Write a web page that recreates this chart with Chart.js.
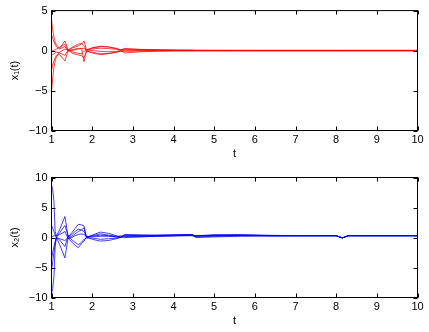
<!DOCTYPE html>
<html><head><meta charset="utf-8">
<script src="https://cdn.jsdelivr.net/npm/chart.js@4/dist/chart.umd.min.js"></script>
<style>
html,body{margin:0;padding:0;background:#fff;}
#wrap{position:relative;width:429px;height:332px;}
.c{position:absolute;left:0;width:429px;height:166px;}
</style></head>
<body><div id="wrap">
<div class="c" style="top:0"><canvas id="c1" width="429" height="166"></canvas></div>
<div class="c" style="top:166px"><canvas id="c2" width="429" height="166"></canvas></div>
</div>
<script>
// time samples
const T = [1.00,1.03,1.06,1.09,1.12,1.20,1.33,1.41,1.50,1.58,1.66,1.74,1.80,1.86,2.00,2.20,2.40,2.60,2.70,2.80,3.20,3.60,4.00,4.45,4.55,5.00,5.60,6.50,8.00,8.15,8.30,10.00];
const xTicks = [1,2,3,4,5,6,7,8,9,10];
const yTicks1 = [-10,-5,0,5];
const yTicks2 = [-10,-5,0,5,10];
// x1(t) trajectories
const x1_a = [3.9,2.6,1.7,1.1,0.7,0.3,1.2,0.1,0.3,0.45,0.6,0.8,1.2,0.1,0.35,0.55,0.45,0.25,0.05,0.2,0.12,0.08,0.05,0.05,0.04,0.04,0.04,0.04,0.04,0.04,0.04,0.04];
const x1_b = [2.0,1.5,1.1,0.8,0.5,0.2,0.5,-0.1,0.4,0.6,0.8,0.9,0.6,0.0,0.3,0.5,0.45,0.25,0.1,0.25,0.15,0.1,0.06,0.04,0.03,0.02,0.01,0,0,0,0,0];
const x1_c = [0.0,0.0,0.05,0.1,0.2,0.4,0.8,0.0,-0.15,-0.25,-0.35,-0.4,-0.1,0.1,0.0,-0.1,-0.15,-0.1,0.0,-0.3,-0.15,-0.08,-0.05,-0.05,-0.04,-0.04,-0.04,-0.04,-0.04,-0.04,-0.04,-0.04];
const x1_d = [-0.6,-0.5,-0.4,-0.3,-0.2,-0.3,-0.6,0.1,-0.3,-0.45,-0.55,-0.65,-0.9,-0.1,-0.2,-0.4,-0.35,-0.2,-0.05,0.05,0.03,0.02,0.01,0,0,0,0,0,0,0,0,0];
const x1_e = [-2.5,-1.8,-1.3,-0.9,-0.6,-0.5,-1.3,0.0,0.1,0.2,0.25,0.3,-1.4,0.0,-0.3,-0.5,-0.4,-0.2,-0.1,-0.1,-0.07,-0.04,-0.02,-0.01,0,0,0,0,0,0,0,0];
const x1_f = [-5.2,-3.4,-2.1,-1.3,-0.8,-0.2,0.2,0.05,0.0,0.1,0.2,0.25,0.3,0.05,0.2,0.3,0.25,0.15,0.05,0.1,0.08,0.05,0.03,0.02,0.01,0,0,0,0,0,0,0];
// x2(t) trajectories
const x2_a = [8.8,8.0,6.0,1.0,0.2,1.3,3.5,0.1,0.8,1.5,2.2,2.1,1.9,0.0,0.4,0.9,0.7,0.3,0.05,0.5,0.45,0.4,0.45,0.5,0.2,0.4,0.5,0.35,0.3,-0.07,0.3,0.3];
const x2_b = [-9.3,-8.5,-6.5,-1.5,0.0,-1.2,-3.4,0.0,-0.8,-1.3,-1.7,-1.0,-0.6,0.1,-0.3,-0.6,-0.5,-0.2,0.0,0.1,0.15,0.2,0.25,0.3,0.1,0.2,0.3,0.3,0.3,-0.07,0.3,0.3];
const x2_c = [-5.6,-4.0,-2.5,-1.0,0.0,0.8,2.0,0.2,0.5,1.0,1.4,1.2,1.0,0.05,0.3,0.6,0.4,0.2,0.1,0.4,0.3,0.35,0.4,0.45,0.3,0.45,0.4,0.3,0.3,-0.07,0.3,0.3];
const x2_d = [0.0,0.2,0.3,0.3,0.3,0.5,1.0,-0.2,0.0,0.3,0.5,0.6,0.5,0.2,0.1,0.2,0.2,0.1,0.3,0.0,0.1,0.2,0.3,0.45,0.0,0.1,0.2,0.25,0.3,-0.07,0.3,0.3];
const x2_e = [-3.5,-2.5,-1.5,-0.6,0.0,-0.4,-1.5,0.3,-0.4,-0.8,-1.2,-0.8,-0.3,-0.1,-0.1,-0.3,-0.2,-0.1,0.1,0.2,0.25,0.3,0.3,0.35,0.3,0.35,0.35,0.3,0.3,-0.07,0.3,0.3];
const x2_f = [2.0,1.5,1.0,0.4,0.0,-0.2,-0.5,0.0,0.2,0.6,1.0,1.3,1.6,0.0,0.2,0.4,0.3,0.1,0.0,0.3,0.3,0.35,0.4,0.4,0.3,0.3,0.35,0.3,0.3,-0.07,0.3,0.3];

const FONT = '"Liberation Sans", Arial, Helvetica, sans-serif';
const fmt = v => v < 0 ? '\u2212' + Math.abs(v) : String(v);

const boxPlugin = {
  id: 'mbox',
  afterDraw(chart) {
    const {ctx, chartArea: a, scales: {x, y}} = chart;
    ctx.save();
    ctx.strokeStyle = '#000';
    ctx.lineWidth = 1;
    ctx.strokeRect(a.left, a.top, a.right - a.left, a.bottom - a.top);
    const L = 4;
    ctx.beginPath();
    x.ticks.forEach(t => {
      const p = Math.round(x.getPixelForValue(t.value)) + 0.5;
      ctx.moveTo(p, a.bottom); ctx.lineTo(p, a.bottom - L);
      ctx.moveTo(p, a.top); ctx.lineTo(p, a.top + L);
    });
    y.ticks.forEach(t => {
      const p = Math.round(y.getPixelForValue(t.value)) + 0.5;
      ctx.moveTo(a.left, p); ctx.lineTo(a.left + L, p);
      ctx.moveTo(a.right, p); ctx.lineTo(a.right - L, p);
    });
    ctx.stroke();
    ctx.restore();
  }
};

function makeChart(id, series, color, yMin, yMax, yTicks, yTitle, padTop, padBottom) {
  return new Chart(document.getElementById(id), {
    type: 'line',
    data: {
      datasets: series.map(s => ({
        data: T.map((t, i) => ({x: t, y: s[i]})),
        borderColor: color, borderWidth: 0.75, pointRadius: 0, tension: 0, fill: false
      }))
    },
    options: {
      responsive: false, animation: false, events: [],
      layout: {padding: {left: 0, right: 11.5, top: padTop, bottom: padBottom}},
      plugins: {legend: {display: false}, tooltip: {enabled: false}},
      scales: {
        x: {
          type: 'linear', min: 1, max: 10,
          afterBuildTicks: s => { s.ticks = xTicks.map(v => ({value: v})); },
          afterFit: s => { s.height = 30; },
          grid: {display: false, drawTicks: false}, border: {display: false},
          ticks: {color: '#000', font: {family: FONT, size: 11}, padding: 3, maxRotation: 0, autoSkip: false, callback: fmt},
          title: {display: true, text: 't', color: '#000', font: {family: FONT, size: 11}, padding: {top: 0, bottom: 0}}
        },
        y: {
          type: 'linear', min: yMin, max: yMax,
          afterBuildTicks: s => { s.ticks = yTicks.map(v => ({value: v})); },
          afterFit: s => { s.width = 51.5; },
          grid: {display: false, drawTicks: false}, border: {display: false},
          ticks: {color: '#000', font: {family: FONT, size: 11}, padding: 4, autoSkip: false, callback: fmt},
          title: {display: true, text: yTitle, color: '#000', font: {family: FONT, size: 11}, padding: {top: 8.5, bottom: 0}}
        }
      }
    },
    plugins: [boxPlugin]
  });
}

makeChart('c1', [x1_a, x1_b, x1_c, x1_d, x1_e, x1_f], '#ff0000', -10, 5, yTicks1, 'x\u2081(t)', 9.5, 5.5);
makeChart('c2', [x2_a, x2_b, x2_c, x2_d, x2_e, x2_f], '#0000ff', -10, 10, yTicks2, 'x\u2082(t)', 11.5, 4.5);
</script>
</body></html>
